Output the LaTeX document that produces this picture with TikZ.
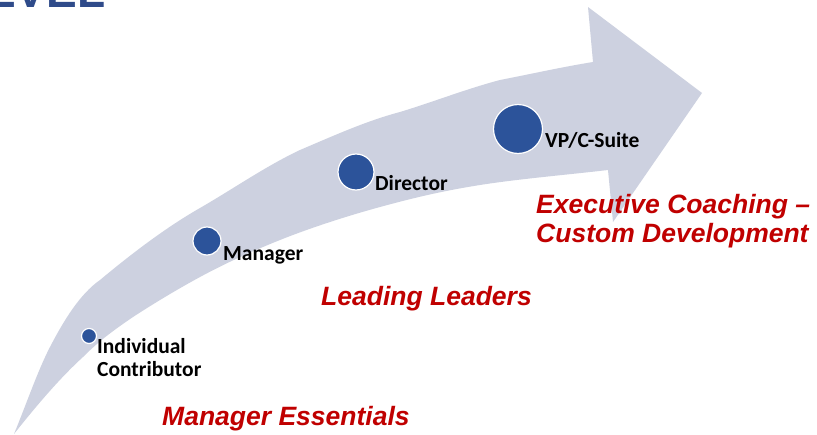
\documentclass[tikz,border=0pt]{standalone}
\usepackage{fontspec}
\setmainfont{Carlito}
\newfontfamily\headfont{Liberation Sans}
\definecolor{arrowfill}{RGB}{205,209,224}
\definecolor{dotblue}{RGB}{44,83,154}
\definecolor{titleblue}{RGB}{47,75,138}
\definecolor{stagered}{RGB}{192,0,0}
\tikzset{
  dot/.style={circle, fill=dotblue, draw=white, line width=1.2pt, inner sep=0pt},
  rolelabel/.style={inner sep=0pt, font=\bfseries\fontsize{21.5}{23}\selectfont, text=black, align=left},
  stagelabel/.style={inner sep=0pt, font=\headfont\bfseries\itshape\fontsize{26.5}{29}\selectfont, text=stagered, align=left},
  titletext/.style={inner sep=0pt, font=\headfont\bfseries\fontsize{46}{50}\selectfont, text=titleblue}
}
\begin{document}
\begin{tikzpicture}[x=1pt, y=-1pt]
  \clip (0,0) rectangle (817,434);
  \fill[white] (0,0) rectangle (817,434);

  % heading, running off the top edge
  \node[titletext, anchor=base west] (title) at (-15,7) {EVEL};

  % curved progression arrow: upper edge, head, lower edge
  \fill[arrowfill]
    (14,434) .. controls (26,405) and (38,370) .. (50,347)
    .. controls (64,320) and (80,294) .. (100,280)
    .. controls (130,255) and (165,228) .. (200,208)
    .. controls (233,189) and (266,166) .. (300,150)
    .. controls (333,136) and (366,121) .. (400,112)
    .. controls (433,102) and (466,89) .. (500,80)
    .. controls (531,74) and (562,67) .. (593,62)
    -- (588,7) -- (702,93) -- (613,222) -- (608,170)
    .. controls (565,175) and (518,179) .. (480,185)
    .. controls (442,191) and (413,198) .. (380,207)
    .. controls (347,216) and (310,228) .. (280,240)
    .. controls (250,252) and (224,264) .. (200,277)
    .. controls (176,290) and (153,304) .. (133,317)
    .. controls (114,330) and (100,340) .. (83,357)
    .. controls (60,378) and (37,405) .. (14,434)
    -- cycle;

  % career stages
  \node[dot, minimum size=15pt] (ic) at (89,336) {};
  \node[dot, minimum size=28pt] (mgr) at (207,241) {};
  \node[dot, minimum size=36pt] (dir) at (356,172) {};
  \node[dot, minimum size=49pt] (vp) at (518,129) {};

  \node[rolelabel, anchor=base west] (iclabel) at (97,376) {Individual\\Contributor};
  \node[rolelabel, anchor=base west] (mgrlabel) at (223,260) {Manager};
  \node[rolelabel, anchor=base west] (dirlabel) at (375,190) {Director};
  \node[rolelabel, anchor=base west] (vplabel) at (545,147) {VP/C-Suite};

  % development programmes
  \node[stagelabel, anchor=base west] (essentials) at (162,425) {Manager Essentials};
  \node[stagelabel, anchor=base west] (leading) at (321,305) {Leading Leaders};
  \node[stagelabel, anchor=base west] (exec) at (536,242) {Executive Coaching –\\Custom Development};
\end{tikzpicture}
\end{document}
